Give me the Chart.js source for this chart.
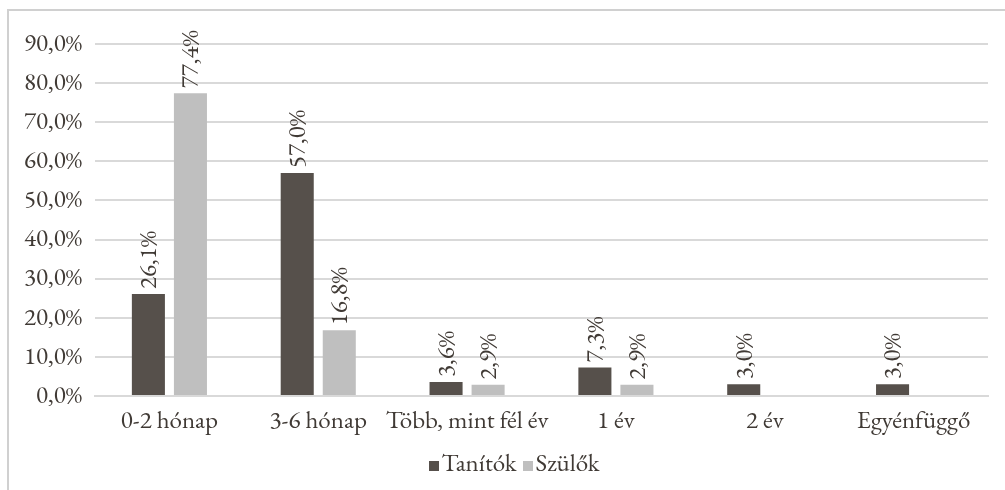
<!DOCTYPE html>
<html>
<head>
<meta charset="utf-8">
<script src="https://cdn.jsdelivr.net/npm/chart.js@4"></script>
<style>
  body { margin: 0; background: #fff; overflow: hidden; }
  #frame { position: absolute; left: 7px; top: 9px; width: 1030px; height: 500px;
           border-left: 2px solid #d0d0d0; border-top: 2px solid #d0d0d0; }
  #box { position: absolute; left: 0; top: 0; width: 1010px; height: 440px; }
  #legend { position: absolute; left: 0; top: 436px; width: 1010px; text-align: center;
            font-family: 'EB Garamond', 'Liberation Serif', serif; font-size: 25px; line-height: 30px; color: #403a35; }
  #legend span.sw { display: inline-block; width: 10px; height: 10px; margin-right: 3px; vertical-align: baseline; }
  #legend span.item { margin: 0 3px; }
</style>
</head>
<body>
<div id="frame">
  <div id="box"><canvas id="myChart"></canvas></div>
  <div id="legend"></div>
</div>
<script>
// categories and series
const categories = ['0-2 hónap', '3-6 hónap', 'Több, mint fél év', '1 év', '2 év', 'Egyénfüggő'];
const tanitok = [26.1, 57.0, 3.6, 7.3, 3.0, 3.0];
const szulok = [77.4, 16.8, 2.9, 2.9, null, null];
const seriesNames = ['Tanítók', 'Szülők'];
const seriesColors = ['#56504b', '#bfbfbf'];

const textColor = '#403a35';
const fontFamily = "'EB Garamond', 'Liberation Serif', serif";

const pct = v => v.toFixed(1).replace('.', ',') + '%';

// rotated value labels above each bar
const barLabels = {
  id: 'barLabels',
  afterDatasetsDraw(chart) {
    const ctx = chart.ctx;
    ctx.save();
    ctx.fillStyle = textColor;
    ctx.font = '25px ' + fontFamily;
    ctx.textAlign = 'left';
    ctx.textBaseline = 'middle';
    chart.data.datasets.forEach((ds, i) => {
      chart.getDatasetMeta(i).data.forEach((bar, j) => {
        const v = ds.data[j];
        if (v == null) return;
        ctx.save();
        ctx.translate(bar.x + 1, bar.y - 5);
        ctx.rotate(-Math.PI / 2);
        ctx.fillText(pct(v), 0, 0);
        ctx.restore();
      });
    });
    ctx.restore();
  }
};

const ctx = document.getElementById('myChart');
new Chart(ctx, {
  type: 'bar',
  data: {
    labels: categories,
    datasets: [
      { label: seriesNames[0], data: tanitok, backgroundColor: seriesColors[0] },
      { label: seriesNames[1], data: szulok, backgroundColor: seriesColors[1] }
    ]
  },
  options: {
    responsive: true,
    maintainAspectRatio: false,
    animation: false,
    layout: { padding: { top: 33, right: 31, bottom: 10, left: 0 } },
    datasets: { bar: { categoryPercentage: 0.565, barPercentage: 0.786 } },
    plugins: { legend: { display: false }, tooltip: { enabled: false } },
    scales: {
      x: {
        grid: { display: false, drawTicks: false },
        border: { color: '#d9d9d9', width: 2 },
        ticks: { color: textColor, font: { family: fontFamily, size: 25 }, padding: 10, maxRotation: 0, autoSkip: false },
        afterFit: s => { s.height = 45; }
      },
      y: {
        min: 0,
        max: 90,
        ticks: { stepSize: 10, color: textColor, font: { family: fontFamily, size: 25 }, padding: 13, callback: v => pct(v) },
        grid: { color: '#d9d9d9', lineWidth: 2, drawTicks: false },
        border: { display: false },
        afterFit: s => { s.width = 86; }
      }
    }
  },
  plugins: [barLabels]
});

// legend under the chart
const legend = document.getElementById('legend');
seriesNames.forEach((name, i) => {
  const item = document.createElement('span');
  item.className = 'item';
  const sw = document.createElement('span');
  sw.className = 'sw';
  sw.style.background = seriesColors[i];
  item.appendChild(sw);
  item.appendChild(document.createTextNode(name));
  legend.appendChild(item);
});
</script>
</body>
</html>
